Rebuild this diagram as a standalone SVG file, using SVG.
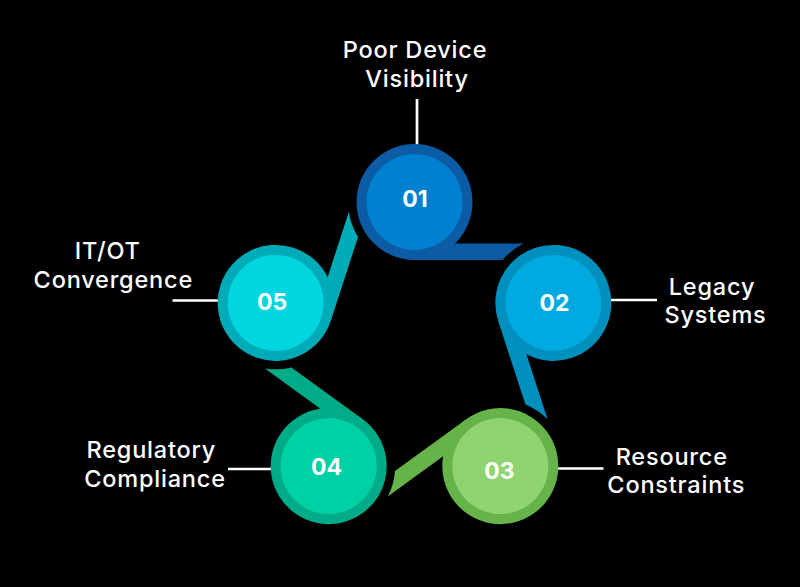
<svg xmlns="http://www.w3.org/2000/svg" width="800" height="587" viewBox="0 0 800 587">
  <style>
    .lbl { font-family: Inter, "Liberation Sans", sans-serif; font-weight: 500; font-size: 23.5px; letter-spacing: 0.8px; fill: #ffffff; text-anchor: middle; }
    .num { font-family: Inter, "Liberation Sans", sans-serif; font-weight: 700; font-size: 23px; fill: #ffffff; text-anchor: middle; }
    .lead { stroke: #ffffff; stroke-width: 2.7; fill: none; }
  </style>
  <defs>
    <path id="tail" d="M 414.5 243.5 L 523.5 243.5 A 66.5 66.5 0 0 0 502.6 260 L 414.5 260 Z"/>
  </defs>
  <rect x="0" y="0" width="800" height="587" fill="#000000"/>

  <g id="connectors">
    <line class="lead" x1="417" y1="99" x2="417" y2="145"/>
    <line class="lead" x1="611" y1="300" x2="657" y2="300"/>
    <line class="lead" x1="557" y1="468.5" x2="603.5" y2="468.5"/>
    <line class="lead" x1="228" y1="469" x2="273" y2="469"/>
    <line class="lead" x1="172.5" y1="300.5" x2="218" y2="300.5"/>
  </g>

  <g id="node01">
    <g transform="rotate(0 414.5 348)">
      <use href="#tail" fill="#0b5ca5"/>
      <circle cx="414.5" cy="202" r="58" fill="#0b5ca5"/>
      <circle cx="414.5" cy="202" r="48" fill="#0180d0"/>
    </g>
    <text class="num" x="415" y="207.3">01</text>
    <text class="lbl" x="415" y="58.3">Poor Device</text>
    <text class="lbl" x="417" y="86.7">Visibility</text>
  </g>

  <g id="node02">
    <g transform="rotate(72 414.5 348)">
      <use href="#tail" fill="#0090bd"/>
      <circle cx="414.5" cy="202" r="58" fill="#0090bd"/>
      <circle cx="414.5" cy="202" r="48" fill="#00a9e0"/>
    </g>
    <text class="num" x="554.5" y="310.7">02</text>
    <text class="lbl" x="712" y="295">Legacy</text>
    <text class="lbl" x="715.5" y="323.3">Systems</text>
  </g>

  <g id="node03">
    <g transform="rotate(144 414.5 348)">
      <use href="#tail" fill="#66b34a"/>
      <circle cx="414.5" cy="202" r="58" fill="#66b34a"/>
      <circle cx="414.5" cy="202" r="48" fill="#8fd470"/>
    </g>
    <text class="num" x="499.5" y="479">03</text>
    <text class="lbl" x="671.7" y="465">Resource</text>
    <text class="lbl" x="676.3" y="493.3">Constraints</text>
  </g>

  <g id="node04">
    <g transform="rotate(216 414.5 348)">
      <use href="#tail" fill="#00ab88"/>
      <circle cx="414.5" cy="202" r="58" fill="#00ab88"/>
      <circle cx="414.5" cy="202" r="48" fill="#00d0a6"/>
    </g>
    <text class="num" x="326.5" y="475">04</text>
    <text class="lbl" x="151.3" y="458.3">Regulatory</text>
    <text class="lbl" x="155" y="486.7">Compliance</text>
  </g>

  <g id="node05">
    <g transform="rotate(288 414.5 348)">
      <use href="#tail" fill="#00abb8"/>
      <circle cx="414.5" cy="202" r="58" fill="#00abb8"/>
      <circle cx="414.5" cy="202" r="48" fill="#00d5e0"/>
    </g>
    <text class="num" x="272" y="310">05</text>
    <text class="lbl" x="107.8" y="259.3">IT/OT</text>
    <text class="lbl" x="113.3" y="288.3">Convergence</text>
  </g>
</svg>
